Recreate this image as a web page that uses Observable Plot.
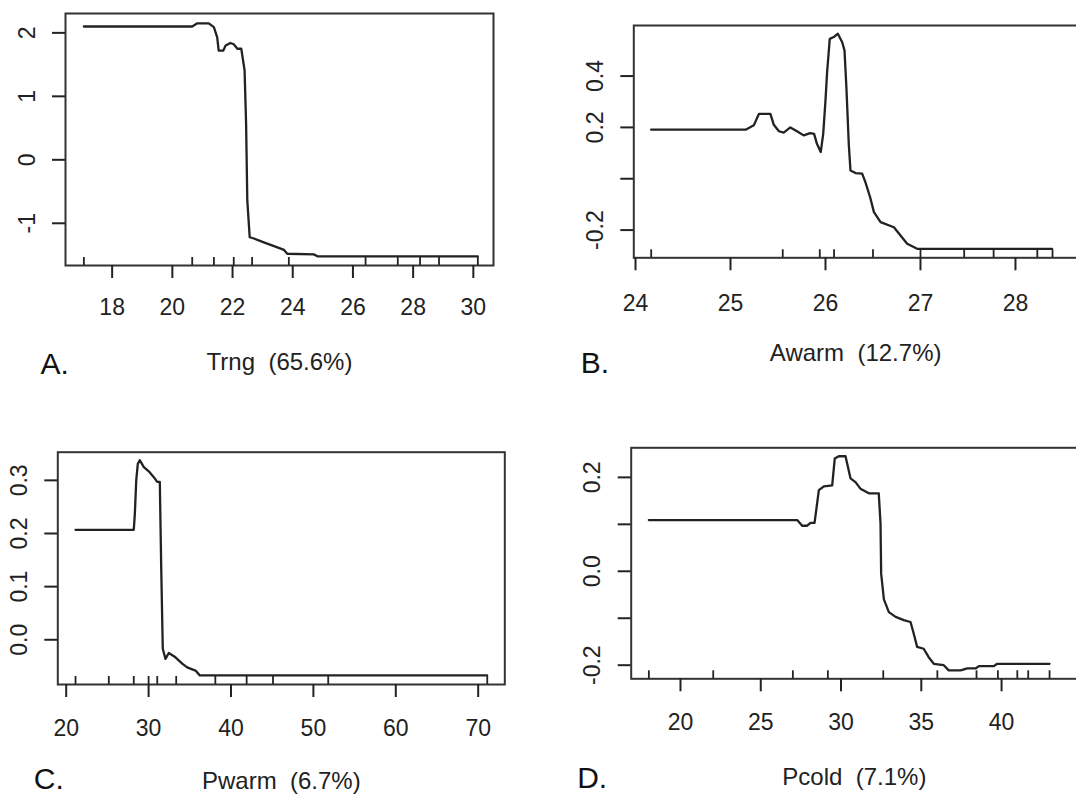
<!DOCTYPE html>
<html>
<head>
<meta charset="utf-8">
<script src="https://cdn.jsdelivr.net/npm/d3@7"></script>
<script src="https://cdn.jsdelivr.net/npm/@observablehq/plot@0.6"></script>
<style>
  html, body { margin: 0; padding: 0; background: #fff; }
  #wrap { position: relative; width: 1076px; height: 797px; overflow: hidden; background: #fff; }
  #wrap svg { position: absolute; }
</style>
</head>
<body>
<div id="wrap"></div>
<script>
// ---------- Panel A: Trng ----------
const trngX = [17.06, 20.66, 20.83, 21.21, 21.38, 21.49, 21.54, 21.69, 21.77, 21.93, 22.04, 22.16, 22.29, 22.40, 22.45, 22.49, 22.57, 22.71, 23.04, 23.49, 23.71, 23.82, 24.70, 24.82, 30.15];
const trngY = [2.10, 2.10, 2.15, 2.15, 2.09, 1.93, 1.72, 1.72, 1.80, 1.84, 1.82, 1.75, 1.75, 1.41, 0.57, -0.64, -1.22, -1.24, -1.30, -1.38, -1.42, -1.48, -1.49, -1.52, -1.52];
const trngRug = [17.06, 20.66, 21.38, 22.04, 22.65, 23.87, 26.42, 27.49, 28.23, 28.86, 30.15];
const trngXTicks = [18, 20, 22, 24, 26, 28, 30];
const trngYTicks = [-1, 0, 1, 2];
const trngYLabels = ["-1", "0", "1", "2"];

// ---------- Panel B: Awarm ----------
const awarmX = [24.165, 25.16, 25.245, 25.30, 25.42, 25.456, 25.51, 25.56, 25.63, 25.70, 25.77, 25.84, 25.88, 25.91, 25.95, 25.976, 26.0, 26.017, 26.045, 26.087, 26.13, 26.176, 26.2, 26.22, 26.245, 26.263, 26.316, 26.386, 26.42, 26.47, 26.51, 26.58, 26.72, 26.79, 26.86, 26.965, 28.386];
const awarmY = [0.191, 0.191, 0.208, 0.253, 0.253, 0.21, 0.185, 0.18, 0.20, 0.185, 0.169, 0.178, 0.175, 0.136, 0.104, 0.175, 0.305, 0.415, 0.545, 0.552, 0.565, 0.532, 0.50, 0.357, 0.136, 0.032, 0.022, 0.02, -0.013, -0.072, -0.13, -0.169, -0.189, -0.221, -0.253, -0.273, -0.273];
const awarmRug = [24.165, 25.55, 25.94, 26.09, 26.50, 27.0, 27.46, 27.77, 28.23, 28.39];
const awarmXTicks = [24, 25, 26, 27, 28];
const awarmYTicks = [-0.2, 0.0, 0.2, 0.4];
const awarmYLabels = ["-0.2", "", "0.2", "0.4"];

// ---------- Panel C: Pwarm ----------
const pwarmX = [21.13, 28.20, 28.33, 28.50, 28.69, 28.93, 29.42, 30.02, 30.63, 31.04, 31.36, 31.53, 31.72, 32.05, 32.45, 33.26, 34.08, 34.68, 35.69, 36.21, 71.09];
const pwarmY = [0.207, 0.207, 0.237, 0.30, 0.331, 0.338, 0.325, 0.317, 0.306, 0.297, 0.297, 0.137, -0.017, -0.036, -0.025, -0.033, -0.045, -0.052, -0.058, -0.067, -0.067];
const pwarmRug = [21.13, 25.17, 28.2, 30.0, 31.05, 33.35, 38.1, 41.9, 45.1, 51.8, 71.1];
const pwarmXTicks = [20, 30, 40, 50, 60, 70];
const pwarmYTicks = [0.0, 0.1, 0.2, 0.3];
const pwarmYLabels = ["0.0", "0.1", "0.2", "0.3"];

// ---------- Panel D: Pcold ----------
const pcoldX = [18.03, 27.27, 27.58, 27.89, 28.10, 28.35, 28.62, 28.93, 29.45, 29.61, 29.86, 30.28, 30.59, 30.90, 31.21, 31.73, 32.35, 32.46, 32.50, 32.67, 32.98, 33.40, 33.91, 34.33, 34.53, 34.74, 35.15, 35.46, 35.78, 36.40, 36.71, 37.45, 37.86, 38.38, 38.59, 39.52, 39.73, 42.99];
const pcoldY = [0.109, 0.109, 0.097, 0.097, 0.103, 0.103, 0.173, 0.181, 0.183, 0.240, 0.245, 0.245, 0.198, 0.190, 0.176, 0.166, 0.166, 0.102, -0.005, -0.060, -0.087, -0.097, -0.104, -0.108, -0.133, -0.161, -0.165, -0.183, -0.197, -0.200, -0.211, -0.211, -0.207, -0.207, -0.202, -0.202, -0.197, -0.197];
const pcoldRug = [18.03, 22.04, 27.0, 29.18, 32.63, 36.0, 38.44, 39.77, 40.98, 41.66, 42.99];
const pcoldXTicks = [20, 25, 30, 35, 40];
const pcoldYTicks = [-0.2, -0.1, 0.0, 0.1, 0.2];
const pcoldYLabels = ["-0.2", "", "0.0", "", "0.2"];

const titles = ["Trng  (65.6%)", "Awarm  (12.7%)", "Pwarm  (6.7%)", "Pcold  (7.1%)"];
const letters = ["A.", "B.", "C.", "D."];

const INK = "#222";
const FONT = "'Liberation Sans', Arial, sans-serif";

function panel(cfg) {
  const data = cfg.xs.map((x, i) => ({x, y: cfg.ys[i]}));
  const frameH = cfg.height - cfg.mt - cfg.mb;
  const svg = Plot.plot({
    width: cfg.width,
    height: cfg.height,
    marginLeft: cfg.ml,
    marginRight: cfg.mr,
    marginTop: cfg.mt,
    marginBottom: cfg.mb,
    x: {domain: cfg.xDomain, label: null},
    y: {domain: cfg.yDomain, label: null},
    style: {fontFamily: FONT, color: INK, background: "transparent", overflow: "visible"},
    marks: [
      Plot.frame({stroke: "#333", strokeWidth: 2}),
      Plot.axisX(cfg.xTicks, {
        anchor: "bottom", tickSize: 13, tickPadding: cfg.xPad, fontSize: 23,
        strokeWidth: 2, stroke: INK, color: INK, label: null,
        tickFormat: d => String(d)
      }),
      Plot.axisY(cfg.yTicks, {
        anchor: "left", tickSize: 13, tickPadding: 18, fontSize: 23, tickRotate: -90,
        strokeWidth: 2, stroke: INK, color: INK, label: null,
        tickFormat: d => cfg.yLabels[cfg.yTicks.indexOf(d)]
      }),
      Plot.tickX(cfg.rug, {x: d => d, insetTop: frameH - 8, stroke: INK, strokeWidth: 1.8}),
      Plot.line(data, {x: "x", y: "y", stroke: INK, strokeWidth: 2.3}),
      Plot.text([cfg.title], {frameAnchor: "bottom", dy: cfg.titleDy, fontSize: 24, fill: INK}),
      Plot.text([cfg.letter], {frameAnchor: "bottom-left", dx: cfg.letterDx, dy: cfg.letterDy, fontSize: 30, textAnchor: "start", fill: "#111"})
    ]
  });
  svg.style.left = cfg.left + "px";
  svg.style.top = cfg.top + "px";
  document.getElementById("wrap").appendChild(svg);
}

panel({
  left: 0, top: 0, width: 538, height: 400, ml: 65, mr: 45, mt: 13, mb: 135,
  xDomain: [16.45, 30.67], yDomain: [-1.665, 2.305],
  xs: trngX, ys: trngY, rug: trngRug, xTicks: trngXTicks, yTicks: trngYTicks, yLabels: trngYLabels,
  xPad: 20, title: titles[0], titleDy: 104, letter: letters[0], letterDx: -25, letterDy: 108
});
panel({
  left: 538, top: 0, width: 560, height: 400, ml: 95.3, mr: 21, mt: 25, mb: 142.7,
  xDomain: [23.982, 28.653], yDomain: [-0.308, 0.597],
  xs: awarmX, ys: awarmY, rug: awarmRug, xTicks: awarmXTicks, yTicks: awarmYTicks, yLabels: awarmYLabels,
  xPad: 24, title: titles[1], titleDy: 103, letter: letters[1], letterDx: -53, letterDy: 115
});
panel({
  left: 0, top: 400, width: 538, height: 397, ml: 57.3, mr: 33.7, mt: 51.7, mb: 113,
  xDomain: [18.98, 73.23], yDomain: [-0.0842, 0.353],
  xs: pwarmX, ys: pwarmY, rug: pwarmRug, xTicks: pwarmXTicks, yTicks: pwarmYTicks, yLabels: pwarmYLabels,
  xPad: 22, title: titles[2], titleDy: 104, letter: letters[2], letterDx: -24, letterDy: 104
});
panel({
  left: 538, top: 400, width: 560, height: 397, ml: 92.7, mr: 21, mt: 47.3, mb: 118.7,
  xDomain: [16.93, 44.73], yDomain: [-0.229, 0.263],
  xs: pcoldX, ys: pcoldY, rug: pcoldRug, xTicks: pcoldXTicks, yTicks: pcoldYTicks, yLabels: pcoldYLabels,
  xPad: 22, title: titles[3], titleDy: 106, letter: letters[3], letterDx: -54, letterDy: 109
});
</script>
</body>
</html>
